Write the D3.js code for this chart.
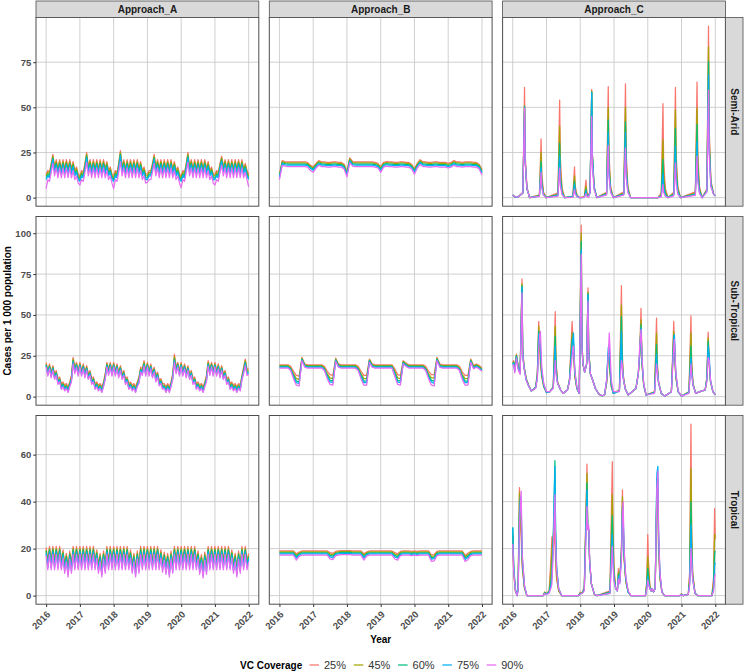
<!doctype html>
<html lang="en">
<head>
<meta charset="UTF-8">
<title>Cases per 1 000 population by VC coverage</title>
<style>
	body { margin: 0; background: #fff; }
	svg text { font-family: "Liberation Sans", Arial, Helvetica, sans-serif; }
</style>
</head>
<body>
<svg id="chart" width="744" height="671"></svg>
<script src="https://cdn.jsdelivr.net/npm/d3@7/dist/d3.min.js"></script>
<script>
	// ---- categories / ticks ----
	var approaches = ['Approach_A', 'Approach_B', 'Approach_C'];
	var climates = ['Semi-Arid', 'Sub-Tropical', 'Tropical'];
	var coverage = ['25%', '45%', '60%', '75%', '90%'];
	var colors = ['#F8766D', '#A3A500', '#00BF7D', '#00B0F6', '#E76BF3'];
	var years = [2016, 2017, 2018, 2019, 2020, 2021, 2022];
	var yTicks = [[0, 25, 50, 75], [0, 25, 50, 75, 100], [0, 20, 40, 60]];

	// time grids: Approach_A every 0.05 yr, Approach_B monthly
	var timeA = d3.range(121).map(function(i) { return 2016 + i * 0.05; });
	var timeB = d3.range(73).map(function(i) { return 2016 + i / 12; });

	// ---- Approach_A ----
	var semiA25 = [13,15,14,19,24,17,21,16,21,16,21,16,21,16,21,16,20,15,17,13,
		12,15,14,19,25,17,21,16,21,16,21,16,21,16,21,16,20,15,17,13,
		12,15,14,19,26,17,21,16,21,16,21,16,21,16,21,16,20,15,17,13,
		13,15,15,19,24,17,21,16,21,16,21,16,21,16,21,16,20,15,17,13,
		12,15,14,19,25,17,21,16,21,16,21,16,21,16,21,16,20,15,17,13,
		13,15,14,19,23,17,21,16,21,16,21,16,21,16,21,16,21,16,19,15,
		13];
	var semiA45 = [12,14,13,18,23,16,20,15,20,15,20,15,20,15,20,15,19,14,16,12,
		11,14,13,18,24,16,20,15,20,15,20,15,20,15,20,15,19,14,16,12,
		11,14,13,18,25,16,20,15,20,15,20,15,20,15,20,15,19,14,16,12,
		12,14,14,18,23,16,20,15,20,15,20,15,20,15,20,15,19,14,16,12,
		11,14,13,18,24,16,20,15,20,15,20,15,20,15,20,15,19,14,16,12,
		12,14,13,18,22,16,20,15,20,15,20,15,20,15,20,15,20,15,18,14,
		12];
	var semiA60 = [11,13,12,17,22,15,19,14,19,14,19,14,19,14,19,14,18,13,15,11,
		10,13,12,17,23,15,19,14,19,14,19,14,19,14,19,14,18,13,15,11,
		10,13,12,17,24,15,19,14,19,14,19,14,19,14,19,14,18,13,15,11,
		11,13,13,17,22,15,19,14,19,14,19,14,19,14,19,14,18,13,15,11,
		10,13,12,17,23,15,19,14,19,14,19,14,19,14,19,14,18,13,15,11,
		11,13,12,17,21,15,19,14,19,14,19,14,19,14,19,14,19,14,17,13,
		11];
	var semiA75 = [10,12,11,16,21,14,18,13,18,13,18,13,18,13,18,13,17,12,14,10,
		9,12,11,16,22,14,18,13,18,13,18,13,18,13,18,13,17,12,14,10,
		9,12,11,16,23,14,18,13,18,13,18,13,18,13,18,13,17,12,14,10,
		10,12,12,16,21,14,18,13,18,13,18,13,18,13,18,13,17,12,14,10,
		9,12,11,16,22,14,18,13,18,13,18,13,18,13,18,13,17,12,14,10,
		10,12,11,16,20,14,18,13,18,13,18,13,18,13,18,13,18,13,16,12,
		10];
	var semiA90 = [5,10,9,14,19,12,16.5,11,16.5,11,16.5,11,16.5,11,16.5,11,15,10,12,8,
		7,10,9,14,19.5,12,16.5,11,16.5,11,16.5,11,16.5,11,16.5,11,15,10,12,8,
		5,10,9,14,20,12,16.5,11,16.5,11,16.5,11,16.5,11,16.5,11,15,10,12,8,
		8.5,10,10,14,19,12,16.5,11,16.5,11,16.5,11,16.5,11,16.5,11,15,10,12,8,
		5.5,10,9,14,19.5,12,16.5,11,16.5,11,16.5,11,16.5,11,16.5,11,15,10,12,8,
		7,10,9,14,18,12,16.5,11,16.5,11,16.5,11,16.5,11,16.5,11,16.5,11,14,10,
		6];

	var subA25 = [21,16,20,15,19,14,16,11,12,8,9,7,8,6,9,13,24,18,21,16,
		21,16,20,15,19,14,16,11,12,8,9,7,8,6,9,14,21,17,21,16,
		21,16,20,15,19,14,16,11,12,8,9,7,8,6,9,12,18,17,22,16,
		21,16,20,15,18,13,15,10,11,8,8,6,8,6,9,14,26,18,21,16,
		21,16,20,15,19,14,16,11,12,8,9,7,8,6,9,13,22,17,21,16,
		21,16,20,15,19,14,16,11,12,8,9,7,8,6,8,7,13,18,23,17,
		17];
	var subA45 = [20,15,19,14,18,13,15,10,11,7,8,6,7,5,8,12,23,17,20,15,
		20,15,19,14,18,13,15,10,11,7,8,6,7,5,8,13,20,16,20,15,
		20,15,19,14,18,13,15,10,11,7,8,6,7,5,8,11,17,16,21,15,
		20,15,19,14,17,12,14,9,10,7,7,5,7,5,8,13,24.5,17,20,15,
		20,15,19,14,18,13,15,10,11,7,8,6,7,5,8,12,21,16,20,15,
		20,15,19,14,18,13,15,10,11,7,8,6,7,5,7,6,12,17,22,16,
		16];
	var subA60 = [19.5,14,18.5,13,17.5,12,14.5,9,10.5,6,7.5,5,6.5,4,7.5,11,22,16,19.5,14,
		19.5,14,18.5,13,17.5,12,14.5,9,10.5,6,7.5,5,6.5,4,7.5,12,19.5,15,19.5,14,
		19.5,14,18.5,13,17.5,12,14.5,9,10.5,6,7.5,5,6.5,4,7.5,10,16.5,15,20,14,
		19.5,14,18.5,13,16.5,11,13.5,8,9.5,6,6.5,4,6.5,4,7.5,12,23,16,19.5,14,
		19.5,14,18.5,13,17.5,12,14.5,9,10.5,6,7.5,5,6.5,4,7.5,11,20,15,19.5,14,
		19.5,14,18.5,13,17.5,12,14.5,9,10.5,6,7.5,5,6.5,4,6.5,5,11.5,16,21,15,
		15];
	var subA75 = [19,13.5,18,12.5,17,11,14,8.5,10,5,7,4,6,3,7,10,21,15,19,13.5,
		19,13.5,18,12.5,17,11,14,8.5,10,5,7,4,6,3,7,11,19,14,19,13.5,
		19,13.5,18,12.5,17,11,14,8.5,10,5,7,4,6,3,7,9,16,14,19.5,13.5,
		19,13.5,18,12.5,16,10,13,7.5,9,5,6,3,6,3,7,11,22,15,19,13.5,
		19,13.5,18,12.5,17,11,14,8.5,10,5,7,4,6,3,7,10,19.5,14,19,13.5,
		19,13.5,18,12.5,17,11,14,8.5,10,5,7,4,6,3,6,4,11,15,20,14,
		14.5];
	var subA90 = [18,12.5,17,11.5,16,10.5,13,7.5,9,4.5,6,3.5,5,2.5,6,9,20,14,18,12.5,
		18,12.5,17,11.5,16,10.5,13,7.5,9,4.5,6,3.5,5,2.5,6,10.5,18,13,18,12.5,
		18,12.5,17,11.5,16,10.5,13,7.5,9,4.5,6,3.5,5,2.5,6,8,15,13,18.5,12.5,
		18,12.5,17,11.5,15,9,12,6.5,8,4.5,5,2.5,5,2.5,6,10.5,21,14,18,12.5,
		18,12.5,17,11.5,16,10.5,13,7.5,9,4.5,6,3.5,5,2.5,6,9,18.5,13,18,12.5,
		18,12.5,17,11.5,16,10.5,13,7.5,9,4.5,6,3.5,5,2.5,5,3.5,10,14,19,13,
		13.5];

	var tropA25 = [20.5,15,21,15,21,15,21,15,21,15,19.5,13.5,18,12,19,13.5,21,15,21,15,
		21,15,21,15,21,15,21,15,21,15,19.5,13.5,18,12,19,13.5,21,15,21,15,
		21,15,21,15,21,15,21,15,21,15,19.5,13.5,18,12,19,13.5,21,15,21,15,
		21,15,21,15,21,15,21,15,19.5,14,18.5,13,18,12,19,13.5,21,15,21,15,
		21,15,21,15,21,15,21,15,21,15,19,13,17.5,11.5,18.5,13,21,15,21,15,
		21,15,21,15,21,15,21,15,21,15,19.5,13.5,18,12,19,13.5,21,15,21,15,
		18];
	var tropA45 = [19.5,14,20,14,20,14,20,14,20,14,18.5,12.5,17,11,18,12.5,20,14,20,14,
		20,14,20,14,20,14,20,14,20,14,18.5,12.5,17,11,18,12.5,20,14,20,14,
		20,14,20,14,20,14,20,14,20,14,18.5,12.5,17,11,18,12.5,20,14,20,14,
		20,14,20,14,20,14,20,14,18.5,13,17.5,12,17,11,18,12.5,20,14,20,14,
		20,14,20,14,20,14,20,14,20,14,18,12,16.5,10.5,17.5,12,20,14,20,14,
		20,14,20,14,20,14,20,14,20,14,18.5,12.5,17,11,18,12.5,20,14,20,14,
		17];
	var tropA60 = [19,13,19.5,13,19.5,13,19.5,13,19.5,13,18,11.5,16.5,10,17.5,11.5,19.5,13,19.5,13,
		19.5,13,19.5,13,19.5,13,19.5,13,19.5,13,18,11.5,16.5,10,17.5,11.5,19.5,13,19.5,13,
		19.5,13,19.5,13,19.5,13,19.5,13,19.5,13,18,11.5,16.5,10,17.5,11.5,19.5,13,19.5,13,
		19.5,13,19.5,13,19.5,13,19.5,13,18,12,17,11,16.5,10,17.5,11.5,19.5,13,19.5,13,
		19.5,13,19.5,13,19.5,13,19.5,13,19.5,13,17.5,11,16,9.5,17,11,19.5,13,19.5,13,
		19.5,13,19.5,13,19.5,13,19.5,13,19.5,13,18,11.5,16.5,10,17.5,11.5,19.5,13,19.5,13,
		16.5];
	var tropA75 = [18,12,18.5,12,18.5,12,18.5,12,18.5,12,17,10.5,15.5,9,16.5,10.5,18.5,12,18.5,12,
		18.5,12,18.5,12,18.5,12,18.5,12,18.5,12,17,10.5,15.5,9,16.5,10.5,18.5,12,18.5,12,
		18.5,12,18.5,12,18.5,12,18.5,12,18.5,12,17,10.5,15.5,9,16.5,10.5,18.5,12,18.5,12,
		18.5,12,18.5,12,18.5,12,18.5,12,17,11,16,10,15.5,9,16.5,10.5,18.5,12,18.5,12,
		18.5,12,18.5,12,18.5,12,18.5,12,18.5,12,16.5,10,15,8.5,16,10,18.5,12,18.5,12,
		18.5,12,18.5,12,18.5,12,18.5,12,18.5,12,17,10.5,15.5,9,16.5,10.5,18.5,12,18.5,12,
		15.5];
	var tropA90 = [17,11,17.5,11,17.5,11,17.5,11,17.5,11,16,9.5,14.5,8,15.5,9.5,17.5,11,17.5,11,
		17.5,11,17.5,11,17.5,11,17.5,11,17.5,11,16,9.5,14.5,8,15.5,9.5,17.5,11,17.5,11,
		17.5,11,17.5,11,17.5,11,17.5,11,17.5,11,16,9.5,14.5,8,15.5,9.5,17.5,11,17.5,11,
		17.5,11,17.5,11,17.5,11,17.5,11,16,10,15,9,14.5,8,15.5,9.5,17.5,11,17.5,11,
		17.5,11,17.5,11,17.5,11,17.5,11,17.5,11,15.5,9,14,7.5,15,9,17.5,11,17.5,11,
		17.5,11,17.5,11,17.5,11,17.5,11,17.5,11,16,9.5,14.5,8,15.5,9.5,17.5,11,17.5,11,
		14.5];

	// ---- Approach_B (monthly) ----
	var semiB25 = [13,20.5,20,19.8,19.8,19.8,19.8,19.8,19.8,19.8,19.5,18,
		17,19,20.5,19.8,19.8,19.5,19.5,19.8,19.8,19.5,19.5,18.5,
		14.5,22,20,19.8,19.8,19.8,19.8,19.8,19.8,19.8,19.5,19,
		17,19.5,20,19.8,19.8,19.5,19.5,19.8,19.8,19.5,19.5,18.5,
		16,19,21,19.8,19.8,19.5,19.5,19.8,19.8,19.5,19.5,19.5,
		19,19.5,20.5,19.8,19.8,19.5,19.8,19.8,19.8,19.5,19.5,18.5,
		15.5];
	var semiB45 = [12.4,19.9,19.4,19.2,19.2,19.2,19.2,19.2,19.2,19.2,18.9,17.4,
		16.4,18.4,19.9,19.2,19.2,18.9,18.9,19.2,19.2,18.9,18.9,17.9,
		13.9,21.4,19.4,19.2,19.2,19.2,19.2,19.2,19.2,19.2,18.9,18.4,
		16.4,18.9,19.4,19.2,19.2,18.9,18.9,19.2,19.2,18.9,18.9,17.9,
		15.4,18.4,20.4,19.2,19.2,18.9,18.9,19.2,19.2,18.9,18.9,18.9,
		18.4,18.9,19.9,19.2,19.2,18.9,19.2,19.2,19.2,18.9,18.9,17.9,
		14.9];
	var semiB60 = [11.8,19.3,18.8,18.6,18.6,18.6,18.6,18.6,18.6,18.6,18.3,16.8,
		15.8,17.8,19.3,18.6,18.6,18.3,18.3,18.6,18.6,18.3,18.3,17.3,
		13.3,20.8,18.8,18.6,18.6,18.6,18.6,18.6,18.6,18.6,18.3,17.8,
		15.8,18.3,18.8,18.6,18.6,18.3,18.3,18.6,18.6,18.3,18.3,17.3,
		14.8,17.8,19.8,18.6,18.6,18.3,18.3,18.6,18.6,18.3,18.3,18.3,
		17.8,18.3,19.3,18.6,18.6,18.3,18.6,18.6,18.6,18.3,18.3,17.3,
		14.3];
	var semiB75 = [11.2,18.7,18.2,18,18,18,18,18,18,18,17.7,16.2,
		15.2,17.2,18.7,18,18,17.7,17.7,18,18,17.7,17.7,16.7,
		12.7,20.2,18.2,18,18,18,18,18,18,18,17.7,17.2,
		15.2,17.7,18.2,18,18,17.7,17.7,18,18,17.7,17.7,16.7,
		14.2,17.2,19.2,18,18,17.7,17.7,18,18,17.7,17.7,17.7,
		17.2,17.7,18.7,18,18,17.7,18,18,18,17.7,17.7,16.7,
		13.7];
	var semiB90 = [10,17.9,17.4,17.2,17.2,17.2,17.2,17.2,17.2,17.2,16.9,15,
		14,16.4,17.9,17.2,17.2,16.9,16.9,17.2,17.2,16.9,16.9,15.9,
		11.5,19.4,17.4,17.2,17.2,17.2,17.2,17.2,17.2,17.2,16.9,16.4,
		14,16.9,17.4,17.2,17.2,16.9,16.9,17.2,17.2,16.9,16.9,15.9,
		13,16.4,18.4,17.2,17.2,16.9,16.9,17.2,17.2,16.9,16.9,16.9,
		16.4,16.9,17.9,17.2,17.2,16.9,17.2,17.2,17.2,16.9,16.9,15.9,
		12.5];

	var subB25 = [19.5,19.5,19.5,19.5,18.5,15.5,13,12.5,24,20,19.5,19.5,
		19.5,19.5,19.5,19.5,18.5,15.5,13.5,13,23.5,20,19.5,19.5,
		19.5,19.5,19.5,19.5,18.5,15.5,13,13,23,20,19.5,19.5,
		19.5,19.5,19.5,19.5,19.5,17,13.5,13,22,20.5,19.5,19.5,
		19.5,19.5,19.5,19.5,18.5,15.5,13.5,13.5,24,20,19.5,19.5,
		19.5,19.5,19.5,19.5,18.5,15,13,13,23,19,20,19,
		17.5];
	var subB45 = [19,19,19,19,17.5,14,11,10.5,23.5,19.5,19,19,
		19,19,19,19,17.5,14,11.5,11,23,19.5,19,19,
		19,19,19,19,17.5,14,11,11,22.5,19.5,19,19,
		19,19,19,19,19,15.5,11.5,11,21.5,20,19,19,
		19,19,19,19,17.5,14,11.5,11.5,23.5,19.5,19,19,
		19,19,19,19,17.5,13.5,11,11,22.5,18.5,19.5,18.5,
		17];
	var subB60 = [18.5,18.5,18.5,18.5,17,13,9.5,9,23,19,18.5,18.5,
		18.5,18.5,18.5,18.5,17,13,10,9.5,22.5,19,18.5,18.5,
		18.5,18.5,18.5,18.5,17,13,9.5,9.5,22,19,18.5,18.5,
		18.5,18.5,18.5,18.5,18.5,14.5,10,9.5,21,19.5,18.5,18.5,
		18.5,18.5,18.5,18.5,17,13,10,9.5,23,19,18.5,18.5,
		18.5,18.5,18.5,18.5,17,12.5,9.5,9.5,22,18,19,18,
		16.5];
	var subB75 = [18,18,18,18,16.5,12,8.5,8,22.5,18.5,18,18,
		18,18,18,18,16.5,12,9,8.5,22,18.5,18,18,
		18,18,18,18,16.5,12,8.5,8.5,21.5,18.5,18,18,
		18,18,18,18,18,13.5,9,8.5,20.5,19,18,18,
		18,18,18,18,16.5,12,9,8,22.5,18.5,18,18,
		18,18,18,18,16.5,11.5,8.5,8.5,21.5,17.5,18.5,17.5,
		16];
	var subB90 = [17.5,17.5,17.5,17.5,16,11,7,6.5,22,18,17.5,17.5,
		17.5,17.5,17.5,17.5,16,11,7.5,7,21.5,18,17.5,17.5,
		17.5,17.5,17.5,17.5,16,11,7,7,21,18,17.5,17.5,
		17.5,17.5,17.5,17.5,17.5,12.5,7.5,7,20,18.5,17.5,17.5,
		17.5,17.5,17.5,17.5,16,11,7,6.5,22,18,17.5,17.5,
		17.5,17.5,17.5,17.5,16,10.5,7,7,21,17,18,17,
		15.5];

	var tropB25 = [19,19,19,19,19,19,17.8,18.5,19,19,19,19,
		19,19,19,19,19,19,18.3,18,18.8,19,19.2,19.2,
		19.2,19.2,19,19,19,19,17.8,18.6,19,19,19,19,
		19,19,19,19,19,18.3,17.8,18.8,19,19,19,18.8,
		19,18.8,19,19,19,19,17.3,17.5,18.8,19,19,19,
		19,19,19,19,19,19,17.2,18,18.8,19,19,19,
		19];
	var tropB45 = [18.6,18.6,18.6,18.6,18.6,18.6,17.2,18.1,18.6,18.6,18.6,18.6,
		18.6,18.6,18.6,18.6,18.6,18.6,17.7,17.4,18.4,18.6,18.8,18.8,
		18.8,18.8,18.6,18.6,18.6,18.6,17.2,18.2,18.6,18.6,18.6,18.6,
		18.6,18.6,18.6,18.6,18.6,17.7,17.2,18.4,18.6,18.6,18.6,18.4,
		18.6,18.4,18.6,18.6,18.6,18.6,16.7,16.9,18.4,18.6,18.6,18.6,
		18.6,18.6,18.6,18.6,18.6,18.6,16.6,17.4,18.4,18.6,18.6,18.6,
		18.6];
	var tropB60 = [18.2,18.2,18.2,18.2,18.2,18.2,16.6,17.7,18.2,18.2,18.2,18.2,
		18.2,18.2,18.2,18.2,18.2,18.2,17.1,16.8,18,18.2,18.4,18.4,
		18.4,18.4,18.2,18.2,18.2,18.2,16.6,17.8,18.2,18.2,18.2,18.2,
		18.2,18.2,18.2,18.2,18.2,17.1,16.6,18,18.2,18.2,18.2,18,
		18.2,18,18.2,18.2,18.2,18.2,16.1,16.3,18,18.2,18.2,18.2,
		18.2,18.2,18.2,18.2,18.2,18.2,16,16.8,18,18.2,18.2,18.2,
		18.2];
	var tropB75 = [17.8,17.8,17.8,17.8,17.8,17.8,16,17.3,17.8,17.8,17.8,17.8,
		17.8,17.8,17.8,17.8,17.8,17.8,16.5,16.2,17.6,17.8,18,18,
		18,18,17.8,17.8,17.8,17.8,16,17.4,17.8,17.8,17.8,17.8,
		17.8,17.8,17.8,17.8,17.8,16.5,16,17.6,17.8,17.8,17.8,17.6,
		17.8,17.6,17.8,17.8,17.8,17.8,15.5,15.7,17.6,17.8,17.8,17.8,
		17.8,17.8,17.8,17.8,17.8,17.8,15.4,16.2,17.6,17.8,17.8,17.8,
		17.8];
	var tropB90 = [17.2,17.2,17.2,17.2,17.2,17.2,15.1,16.7,17.2,17.2,17.2,17.2,
		17.2,17.2,17.2,17.2,17.2,17.2,15.6,15.3,17,17.2,17.4,17.4,
		17.4,17.4,17.2,17.2,17.2,17.2,15.1,16.8,17.2,17.2,17.2,17.2,
		17.2,17.2,17.2,17.2,17.2,15.6,15.1,17,17.2,17.2,17.2,17,
		17.2,17,17.2,17.2,17.2,17.2,14.6,14.8,17,17.2,17.2,17.2,
		17.2,17.2,17.2,17.2,17.2,17.2,14.5,15.3,17,17.2,17.2,17.2,
		17.2];

	// ---- Approach_C (irregular time points around outbreaks) ----
	var semiCTime = [2016,2016.05,2016.15,
		2016.30,2016.35,2016.37,2016.42,2016.50,
		2016.79,2016.84,2016.86,2016.91,2016.99,
		2017.34,2017.39,2017.41,2017.46,2017.54,
		2017.78,2017.83,2017.85,2017.90,2017.98,
		2018.12,2018.17,2018.19,2018.24,
		2018.29,2018.34,2018.36,2018.41,2018.49,
		2018.78,2018.83,2018.85,2018.90,2018.98,
		2019.29,2019.34,2019.36,2019.41,2019.49,
		2019.60,2020.30,
		2020.40,2020.45,2020.47,2020.52,2020.60,
		2020.77,2020.82,2020.84,2020.89,2020.97,
		2021.41,2021.46,2021.48,2021.53,2021.61,
		2021.75,2021.80,2021.82,2021.87,2021.95,
		2022];
	var semiC25 = [1.5,0.6,0.2, 3,61,24,6,0, 1.6,32.5,13,3.3,0, 2.7,54,22,5.4,0, 0.9,17,6.8,1.7,0, 0.5,9.7,3.9,1,
		3,60,24,6,0, 3,61.5,25,6.2,0, 3.2,63,25,6.3,0, 0,0, 2.6,52,21,5.2,0, 3,61,24,6.1,0, 3.2,64,26,6.4,0, 4.8,95,38,9.5,2, 1];
	var semiC45 = [1.5,0.6,0.2, 2.6,51,20,5.1,0, 1.3,25,10,2.5,0, 2,39.5,16,4,0, 0.6,12,4.8,1.2,0, 0.3,6.4,2.6,0.6,
		3,59,24,5.9,0, 2.5,50,20,5,0, 2.5,50,20,5,0, 0,0, 1.6,32,13,3.2,0, 2.4,48.5,19,4.9,0, 2.5,49.5,20,5,0, 4.2,83.5,33,8.4,2, 1];
	var semiC60 = [1.5,0.6,0.2, 2.5,50.5,20,5,0, 1,20,8,2,0, 1.5,30,12,3,0, 0.5,9,3.6,0.9,0, 0.2,4.6,1.8,0.5,
		2.9,58.5,23,5.9,0, 2.2,43,17,4.3,0, 2.1,42,17,4.2,0, 0,0, 1,21,8.4,2.1,0, 1.9,38.5,15,3.9,0, 2,40.5,16,4,0, 3.8,75.5,30,7.6,2, 1];
	var semiC75 = [1.5,0.6,0.2, 2.5,50,20,5,0, 0.8,16.5,6.6,1.7,0, 1.2,23,9.2,2.3,0, 0.4,7.3,2.9,0.7,0, 0.2,3.5,1.4,0.4,
		2.9,58,23,5.8,0, 1.8,36,14,3.6,0, 1.8,36,14,3.6,0, 0,0, 0.7,13,5.2,1.3,0, 1.4,28.5,11,2.9,0, 1.6,31,12,3.1,0, 3.4,68,27,6.8,2, 1];
	var semiC90 = [1.5,0.6,0.2, 2.5,49.5,20,5,0, 0.7,14,5.6,1.4,0, 0.8,16.5,6.6,1.7,0, 0.2,4.6,1.8,0.5,0, 0.1,2.2,0.9,0.2,
		2.3,45,18,4.5,0, 1.5,29,12,2.9,0, 1.4,27.5,11,2.8,0, 0,0, 0.4,7.3,2.9,0.7,0, 1,19.3,7.7,1.9,0, 1.2,23,9.2,2.3,0, 3,59.5,24,6,2, 1];

	var subCTime = [2016.00,2016.03,2016.06,2016.11,2016.16,2016.22,2016.275,2016.295,2016.33,2016.40,
		2016.47,2016.55,2016.62,2016.68,2016.73,2016.77,2016.80,2016.82,2016.86,2016.92,
		2017.00,2017.10,2017.20,2017.26,2017.28,2017.33,2017.42,2017.50,2017.62,2017.68,
		2017.76,2017.80,2017.84,2017.90,2017.97,2018.03,2018.05,2018.08,2018.13,2018.19,
		2018.23,2018.25,2018.30,2018.37,2018.45,2018.55,2018.64,2018.72,2018.78,2018.83,
		2018.86,2018.88,2018.92,2018.98,2019.16,2019.22,2019.24,2019.27,2019.33,2019.42,
		2019.65,2019.72,2019.76,2019.80,2019.83,2019.88,2019.95,2020.20,2020.26,2020.28,
		2020.32,2020.40,2020.50,2020.70,2020.77,2020.79,2020.83,2020.90,2021.00,2021.22,
		2021.28,2021.30,2021.34,2021.42,2021.60,2021.70,2021.75,2021.79,2021.82,2021.86,
		2021.93,2022.00];
	var subC25 = [21,22,17,26,19,16,72,30,19,11, 7,3.5,4.5,6,15,46,30,20,12,6,
		2.5,3,6,52,22,9,4,2,4,10, 46,28,12,5,2,105,35,20,15,20,
		66.5,30,14,10,5,1.5,0.5,1,8,24, 25,15,6,2,4,68,30,14,5,1,
		5,14,25,54,20,7,1,3,48,22, 9,2,0.3,3,46,30,12,3,0.3,3,
		49.5,22,8,2,3.5,4,12,39.5,20,9, 3,1];
	var subC45 = [20.5,21.5,16.5,25.5,18.5,15.5,69,29,19,11, 7,3.5,4.5,6,14,43,32,24,13,6,
		2.5,3,6,43,20,8.5,4,2,4,10, 39,30,13,5,2,100,33,20,15,20,
		64,29,14,10,5,1.5,0.5,1,8,25, 26,16,6,2,4,56,26,13,5,1,
		5,14,25,47,20,7,1,3,39,20, 9,2,0.3,3,40,32,12,3,0.3,3,
		39,19,8,2,3.5,4,11,36,21,9, 3,1];
	var subC60 = [20,21,16,25,18,15,68,28,18.5,10.5, 7,3.5,4.5,6,13,40,33,28,14,6.5,
		2.5,3,5.5,37,18,8,4,2,4,10, 35,33,14,5,2,95,32,20,15,20,
		63,28,14,10,5,1.5,0.5,1,9,27, 28,17,7,2,3.5,49,23,12,5,1,
		5,14,26,44,21,7,1,2.5,32,18, 8.5,2,0.3,3,37,34,13,3,0.3,2.5,
		31,17,7.5,2,3.5,4,11,34,22,9, 3,1];
	var subC75 = [19.5,20.5,15.5,24.5,17.5,14.5,67,28,18.5,10, 6.5,3.5,4.5,5.5,12,38,34,30,15,7,
		2.5,3,5.5,31,16,8,4,2,4,9.5, 32,39,15,5.5,2,90,31,20,15,20,
		62.5,28,14,10,5,1.5,0.5,1,10,30, 32,20,8,2,3.5,40,20,12,5,1,
		5,14,27,42,22,7.5,1,2.5,26,17, 8.5,2,0.3,3,34,38,14,3,0.3,2.5,
		23.5,15,7,2,3.5,4,10,31,25,10, 3,1];
	var subC90 = [18.5,19.5,14.5,23.5,16.5,13.5,63.5,26,18,10, 6.5,3.5,4.5,5,11,30,38,40,18,8,
		3,3,5,22,14,8,4,2,4,9, 25,31,16,6,2,87,30,20,15,20,
		58.5,26,14,10,5,1.5,0.5,1,10,25, 39,30,10,3,3,22,20,12,5,1,
		5,14,30,41,24,8,1,2,20,16, 8.5,2,0.3,3,30,35,15,3.5,0.3,2,
		20,14,7,2,3.5,4,9,24,22,10, 3,1];

	var tropCTime = [2016.00,2016.03,2016.08,2016.13,2016.16,2016.20,2016.225,2016.25,2016.28,2016.31,
		2016.35,2016.42,2016.90,2016.95,2017.00,2017.08,2017.14,2017.16,2017.20,2017.25,
		2017.27,2017.30,2017.36,2017.45,2017.95,2018.00,2018.06,2018.12,2018.20,2018.22,
		2018.25,2018.28,2018.33,2018.42,2018.50,2018.88,2018.95,2018.97,2019.00,2019.05,
		2019.10,2019.13,2019.17,2019.22,2019.25,2019.27,2019.30,2019.35,2019.42,2019.50,
		2019.93,2019.97,2020.00,2020.02,2020.06,2020.10,2020.13,2020.17,2020.22,2020.27,
		2020.30,2020.32,2020.36,2020.42,2020.50,2020.95,2021.00,2021.05,2021.20,2021.24,
		2021.28,2021.30,2021.33,2021.40,2021.48,2021.90,2021.95,2021.98,2022.00];
	var tropC25 = [25,10,2,0,5,46,30,25,12,8, 3,0,0,1.5,0.8,2,18,25,20,27,
		14,7,2,0,0,1.5,1,4,56,30, 28,14,5,0.5,0,2,57,30,12,3,
		2,11.5,6,20,45,30,15,6,1.5,0, 0,6,26,15,5,2,3,1.5,3,44,
		40,20,7,1.5,0,0,0.8,0,0.5,10, 73,30,10,1,0,0,8,37,24];
	var tropC45 = [26,10,2,0,4,44,35,30,14,9, 3,0,0,1.5,0.8,2,12,20,25,35,
		18,8,2,0,0,1.2,1,3.5,52,30, 28,14,5,0.5,0,1.5,43,25,10,3,
		2,10,6,19,42,32,16,6,1.5,0, 0,5,16.5,11,4,2,3,1.5,3,46,
		44,22,8,1.5,0,0,0.7,0,0.5,8, 54,25,9,1,0,0,6,26,25];
	var tropC60 = [29,12,2.5,0,3,36,40,35,16,10, 3.5,0,0,1.2,0.7,1.5,7,10,25,57.5,
		28,12,3,0,0,1,1,3,48,30, 28,14,5,0.5,0,1.5,34,20,8,3,
		2,9,6,18,38,34,17,7,1.5,0, 0,4,11.5,8,3.5,2,3,1.5,3,50,
		50,25,9,1.5,0,0,0.6,0,0.5,6, 40,20,8,1,0,0,4,18,19];
	var tropC75 = [29,12,2.5,0,3,34,42,40,17,11, 4,0,0,1,0.6,1.5,5,8,22,55,
		27,12,3,0,0,0.8,1,2.5,45,30, 28,14,5,0.5,0,1,26,16,7,3,
		2,8,5.5,17,36,36,18,7,1.5,0, 0,3,8,6,3,2,3,1.5,3,52,
		55,27,9,1.5,0,0,0.5,0,0.5,5, 30,17,7,1,0,0,3,13,14];
	var tropC90 = [22,10,2,0,2,30,38,44.5,18,12, 4,0,0,0.8,0.5,1,3.5,5,18,43,
		22,11,3,0,0,0.6,1,2,38,28, 30,15,5,0.5,0,1,21,13,6,3,
		2,7,5,15,34,40,20,8,2,0, 0,2.5,6.7,5,3,2,3,1.5,3,45,
		53,28,10,1.5,0,0,0.4,0,0.5,4, 20,15,7,1,0,0,2,8,9];

	// ---- panel table ----
	var panels = [
		{ row: 0, col: 0, time: timeA, series: [semiA25, semiA45, semiA60, semiA75, semiA90] },
		{ row: 0, col: 1, time: timeB, series: [semiB25, semiB45, semiB60, semiB75, semiB90] },
		{ row: 0, col: 2, time: semiCTime, series: [semiC25, semiC45, semiC60, semiC75, semiC90] },
		{ row: 1, col: 0, time: timeA, series: [subA25, subA45, subA60, subA75, subA90] },
		{ row: 1, col: 1, time: timeB, series: [subB25, subB45, subB60, subB75, subB90] },
		{ row: 1, col: 2, time: subCTime, series: [subC25, subC45, subC60, subC75, subC90] },
		{ row: 2, col: 0, time: timeA, series: [tropA25, tropA45, tropA60, tropA75, tropA90] },
		{ row: 2, col: 1, time: timeB, series: [tropB25, tropB45, tropB60, tropB75, tropB90] },
		{ row: 2, col: 2, time: tropCTime, series: [tropC25, tropC45, tropC60, tropC75, tropC90] }
	];

	// ---- layout ----
	var svg = d3.select('#chart');
	var panelW = 222.8,
		panelH = 188.7,
		colX = [36, 269.3, 502.6],
		rowY = [17.5, 216.5, 415.5],
		stripH = 16.5,
		stripW = 17.6,
		gridColor = '#c4c4c4',
		borderColor = '#4d4d4d';

	svg.append('rect').attr('width', 744).attr('height', 671).attr('fill', '#fff');

	var xScale = d3.scaleLinear()
		.domain([2016 - 0.3, 2022 + 0.3])
		.range([0, panelW]);

	// free y per row, 5% expansion like ggplot
	var yScales = [0, 1, 2].map(function(r) {
		var m = d3.max(panels.filter(function(p) { return p.row === r; }), function(p) {
			return d3.max(p.series, function(s) { return d3.max(s); });
		});
		return d3.scaleLinear().domain([-0.05 * m, 1.05 * m]).range([panelH, 0]);
	});

	/**
	* draw one facet panel
	*/
	var drawPanel = function(p) {
		var y = yScales[p.row];
		var g = svg.append('g')
			.attr('transform', 'translate(' + colX[p.col] + ',' + rowY[p.row] + ')');

		g.append('rect')
			.attr('width', panelW)
			.attr('height', panelH)
			.attr('fill', '#fff');

		g.selectAll('.hgrid')
			.data(yTicks[p.row])
			.enter()
			.append('line')
			.attr('x1', 0).attr('x2', panelW)
			.attr('y1', function(d) { return y(d); })
			.attr('y2', function(d) { return y(d); })
			.attr('stroke', gridColor)
			.attr('stroke-width', 0.8);

		g.selectAll('.vgrid')
			.data(years)
			.enter()
			.append('line')
			.attr('y1', 0).attr('y2', panelH)
			.attr('x1', function(d) { return xScale(d); })
			.attr('x2', function(d) { return xScale(d); })
			.attr('stroke', gridColor)
			.attr('stroke-width', 0.8);

		var line = d3.line()
			.x(function(d) { return xScale(d[0]); })
			.y(function(d) { return y(d[1]); });

		p.series.forEach(function(vals, i) {
			var pts = p.time.map(function(t, k) { return [t, vals[k]]; });
			g.append('path')
				.datum(pts)
				.attr('d', line)
				.attr('fill', 'none')
				.attr('stroke', colors[i])
				.attr('stroke-width', 1.25)
				.attr('stroke-linejoin', 'round');
		});

		g.append('rect')
			.attr('width', panelW)
			.attr('height', panelH)
			.attr('fill', 'none')
			.attr('stroke', borderColor)
			.attr('stroke-width', 1);
	};

	panels.forEach(drawPanel);

	// ---- strips ----
	approaches.forEach(function(a, c) {
		svg.append('rect')
			.attr('x', colX[c]).attr('y', 1)
			.attr('width', panelW).attr('height', stripH)
			.attr('fill', '#d9d9d9')
			.attr('stroke', borderColor)
			.attr('stroke-width', 0.8);
		svg.append('text')
			.attr('x', colX[c] + panelW / 2)
			.attr('y', 1 + stripH / 2 + 3.6)
			.attr('text-anchor', 'middle')
			.attr('font-size', 10)
			.attr('font-weight', 'bold')
			.attr('fill', '#1a1a1a')
			.text(a);
	});

	climates.forEach(function(cl, r) {
		var sx = colX[2] + panelW;
		svg.append('rect')
			.attr('x', sx).attr('y', rowY[r])
			.attr('width', stripW).attr('height', panelH)
			.attr('fill', '#d9d9d9')
			.attr('stroke', borderColor)
			.attr('stroke-width', 0.8);
		svg.append('text')
			.attr('transform', 'translate(' + (sx + stripW / 2 - 3.6) + ',' + (rowY[r] + panelH / 2) + ') rotate(90)')
			.attr('text-anchor', 'middle')
			.attr('font-size', 10)
			.attr('font-weight', 'bold')
			.attr('fill', '#1a1a1a')
			.text(cl);
	});

	// ---- axes ----
	yScales.forEach(function(y, r) {
		var ax = svg.append('g')
			.attr('transform', 'translate(' + colX[0] + ',' + rowY[r] + ')')
			.call(d3.axisLeft(y).tickValues(yTicks[r]).tickSize(2.8).tickPadding(2));
		ax.select('.domain').remove();
		ax.selectAll('.tick line').attr('stroke', '#333');
		ax.selectAll('.tick text')
			.attr('font-size', 9.5)
			.attr('font-weight', 'bold')
			.attr('fill', '#4d4d4d')
			.attr('font-family', '"Liberation Sans", Arial, sans-serif');
	});

	colX.forEach(function(cx) {
		var ax = svg.append('g')
			.attr('transform', 'translate(' + cx + ',' + (rowY[2] + panelH) + ')')
			.call(d3.axisBottom(xScale).tickValues(years).tickFormat(d3.format('d')).tickSize(2.8));
		ax.select('.domain').remove();
		ax.selectAll('.tick line').attr('stroke', '#333');
		ax.selectAll('.tick text')
			.attr('x', 0).attr('y', 0).attr('dy', 0)
			.attr('transform', 'translate(4.3,10.8) rotate(-45)')
			.style('text-anchor', 'end')
			.attr('font-size', 9.5)
			.attr('font-weight', 'bold')
			.attr('fill', '#4d4d4d')
			.attr('font-family', '"Liberation Sans", Arial, sans-serif');
	});

	// ---- axis titles ----
	svg.append('text')
		.attr('transform', 'translate(10.5,' + (rowY[0] + (rowY[2] + panelH - rowY[0]) / 2) + ') rotate(-90)')
		.attr('text-anchor', 'middle')
		.attr('font-size', 10)
		.attr('font-weight', 'bold')
		.attr('fill', '#000')
		.text('Cases per 1 000 population');

	svg.append('text')
		.attr('x', colX[0] + (colX[2] + panelW - colX[0]) / 2)
		.attr('y', 642.5)
		.attr('text-anchor', 'middle')
		.attr('font-size', 10)
		.attr('font-weight', 'bold')
		.attr('fill', '#000')
		.text('Year');

	// ---- legend ----
	var legend = svg.append('g').attr('transform', 'translate(0,665)');
	legend.append('text')
		.attr('x', 240).attr('y', 3.5)
		.attr('font-size', 10)
		.attr('font-weight', 'bold')
		.attr('fill', '#000')
		.text('VC Coverage');

	var items = legend.selectAll('.item')
		.data(coverage)
		.enter()
		.append('g')
		.attr('transform', function(d, i) { return 'translate(' + (309.5 + i * 44.3) + ',0)'; });
	items.append('line')
		.attr('x1', 0).attr('x2', 9.5)
		.attr('y1', 0).attr('y2', 0)
		.attr('stroke', function(d, i) { return colors[i]; })
		.attr('stroke-width', 1.25);
	items.append('text')
		.attr('x', 14.5).attr('y', 4)
		.attr('font-size', 11)
		.attr('fill', '#333')
		.text(function(d) { return d; });
</script>
</body>
</html>
